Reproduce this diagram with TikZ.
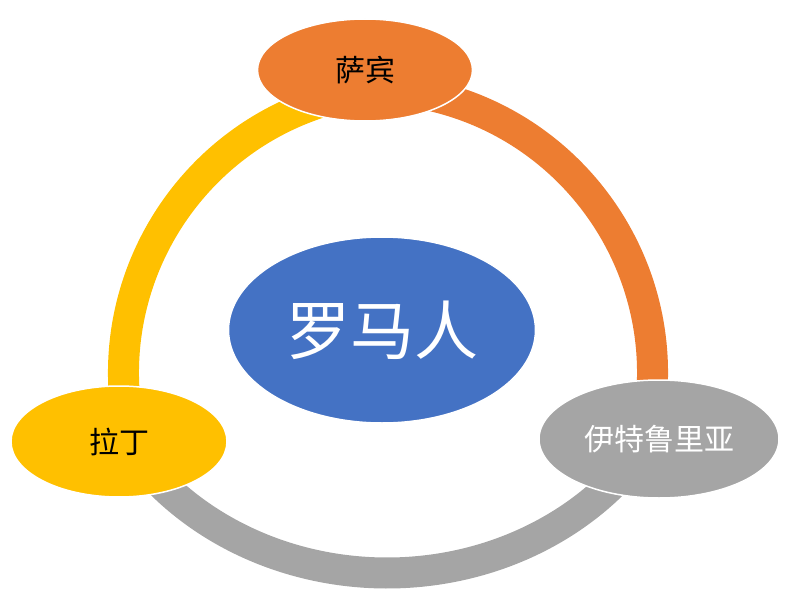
\documentclass[tikz,border=0pt]{standalone}
\usepackage{fontspec}
\newfontfamily\cjk{Noto Sans CJK SC}
\usetikzlibrary{shapes.geometric}
\definecolor{cblue}{HTML}{4472C4}
\definecolor{corange}{HTML}{ED7D31}
\definecolor{cgray}{HTML}{A5A5A5}
\definecolor{cyellow}{HTML}{FFC000}
\begin{document}
\begin{tikzpicture}[x=1pt,y=-1pt,
  band/.style={line width=31pt},
  bubble/.style={ellipse, draw=white, line width=1.5pt, inner sep=0pt,
    font=\cjk\fontsize{30}{36}\selectfont},
]
\useasboundingbox (0,0) rectangle (796,602);
\coordinate (cy) at (408,373);
\coordinate (co) at (368,373);
\coordinate (cg) at (387,300);
% arcs of the cycle
\draw[band,cyellow] (cy) ++(-104:284.5) arc[start angle=-104,end angle=-189,radius=284.5];
\draw[band,corange] (co) ++(-80:284.5) arc[start angle=-80,end angle=8,radius=284.5];
\draw[band,cgray] (cg) ++(35:305 and 273) arc[start angle=35,end angle=145,x radius=305,y radius=273];
% nodes
\node[bubble, fill=cblue, text=white, minimum width=307pt, minimum height=186pt,
  font=\cjk\fontsize{64}{70}\selectfont] (rome) at (382,330) {罗马人};
\node[bubble, fill=corange, minimum width=215pt, minimum height=102pt] (sabine) at (365,70) {萨宾};
\node[bubble, fill=cgray, text=white, minimum width=240pt, minimum height=118pt] (etr) at (659,439) {伊特鲁里亚};
\node[bubble, fill=cyellow, minimum width=216pt, minimum height=111pt] (latin) at (119,441.5) {拉丁};
\end{tikzpicture}
\end{document}
